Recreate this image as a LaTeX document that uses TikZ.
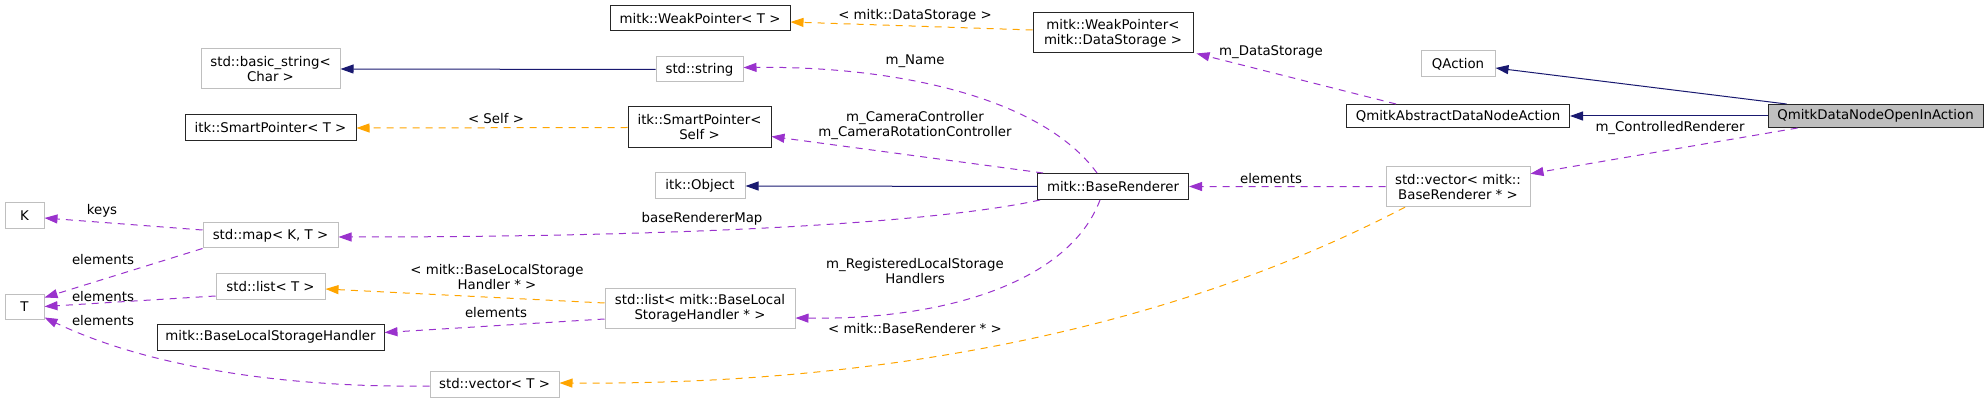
\documentclass[tikz,border=0pt]{standalone}
\usepackage{fontspec}
\setmainfont{DejaVu Sans}
\usetikzlibrary{arrows.meta, positioning}
\definecolor{inhblue}{HTML}{191970}
\definecolor{usepurple}{HTML}{9A32CD}
\definecolor{tplorange}{HTML}{FFA500}
\definecolor{boxgray}{HTML}{BFBFBF}

\begin{document}
\begin{tikzpicture}[x=1pt, y=-1pt,
			font=\fontsize{13.33}{15}\selectfont,
			cls/.style={rectangle, draw=black!85, line width=1pt, inner sep=0pt, align=center},
			ext/.style={cls, draw=boxgray},
			lbl/.style={inner sep=0pt, align=center},
			inherit/.style={-{Triangle[length=13pt, width=9pt]}, inhblue, line width=1pt},
			usage/.style={-{Triangle[length=13pt, width=9pt]}, usepurple, line width=1pt, dash pattern=on 7pt off 6pt},
			tmpl/.style={usage, tplorange}
		]
		\useasboundingbox (0,0) rectangle (1988,403);
		% classes
		\node[cls, minimum width=180pt, minimum height=25pt] (wpT) at (700,18.5) {mitk::WeakPointer< T >};
		\node[cls, minimum width=160pt, minimum height=40pt] (wpDS) at (1113,33) {mitk::WeakPointer<\\mitk::DataStorage >};
		\node[ext, minimum width=139pt, minimum height=40pt] (basicstr) at (270.5,69) {std::basic\_string<\\Char >};
		\node[ext, minimum width=87pt, minimum height=25pt] (stdstring) at (699.5,69.5) {std::string};
		\node[cls, minimum width=171pt, minimum height=26pt] (spT) at (270.5,128) {itk::SmartPointer< T >};
		\node[cls, minimum width=143pt, minimum height=41pt] (spSelf) at (699.5,127.5) {itk::SmartPointer<\\Self >};
		\node[ext, minimum width=90pt, minimum height=26pt] (itkobj) at (700,186) {itk::Object};
		\node[cls, minimum width=151pt, minimum height=26pt] (baserend) at (1113,186.5) {mitk::BaseRenderer};
		\node[ext, minimum width=74pt, minimum height=26pt] (qaction) at (1458,64) {QAction};
		\node[cls, minimum width=223pt, minimum height=23pt] (abstract) at (1458,116) {QmitkAbstractDataNodeAction};
		\node[cls, fill=boxgray, minimum width=215pt, minimum height=23pt] (openin) at (1875.5,116) {QmitkDataNodeOpenInAction};
		\node[ext, minimum width=144pt, minimum height=40pt] (vecBR) at (1458,186.7) {std::vector< mitk::\\BaseRenderer * >};
		\node[ext, minimum width=39pt, minimum height=26pt] (K) at (24.5,216) {K};
		\node[ext, minimum width=135pt, minimum height=25pt] (map) at (270.5,235.5) {std::map< K, T >};
		\node[ext, minimum width=39pt, minimum height=25pt] (T) at (24.5,306.5) {T};
		\node[ext, minimum width=109pt, minimum height=25pt] (listT) at (270.5,286.5) {std::list< T >};
		\node[cls, minimum width=227pt, minimum height=26pt] (blsh) at (270.5,337) {mitk::BaseLocalStorageHandler};
		\node[ext, minimum width=190pt, minimum height=40pt] (listBLSH) at (700,308) {std::list< mitk::BaseLocal\\StorageHandler * >};
		\node[ext, minimum width=129pt, minimum height=26pt] (vecT) at (494.5,384) {std::vector< T >};

		% edge labels
		\node[lbl] (lDS) at (915,16) {< mitk::DataStorage >};
		\node[lbl] (lDataStorage) at (1271,52) {m\_DataStorage};
		\node[lbl] (lCtrl) at (1670,128.5) {m\_ControlledRenderer};
		\node[lbl] (lElemBR) at (1271,178.5) {elements};
		\node[lbl] (lTplBR) at (915,328.5) {< mitk::BaseRenderer * >};
		\node[lbl] (lName) at (915,61) {m\_Name};
		\node[lbl] (lCam) at (915,126) {m\_CameraController\\m\_CameraRotationController};
		\node[lbl] (lMap) at (702,219) {baseRendererMap};
		\node[lbl] (lReg) at (915,271) {m\_RegisteredLocalStorage\\Handlers};
		\node[lbl] (lSelf) at (496,119) {< Self >};
		\node[lbl] (lTplBLSH) at (497,277.5) {< mitk::BaseLocalStorage\\Handler * >};
		\node[lbl] (lElemBLSH) at (496,313) {elements};
		\node[lbl] (lKeys) at (102,211) {keys};
		\node[lbl] (lElemMap) at (103,260) {elements};
		\node[lbl] (lElemList) at (103,297) {elements};
		\node[lbl] (lElemVec) at (103,321) {elements};

		% inheritance
		\draw[inherit] ([xshift=-89pt]openin.north) -- ([yshift=-4pt]qaction.east);
		\draw[inherit] (openin.west) -- (abstract.east);
		\draw[inherit] (baserend.west) -- (itkobj.east);
		\draw[inherit] (stdstring.west) -- (basicstr.east);

		% members
		\draw[usage] ([xshift=-78pt]openin.south) -- ([yshift=13pt]vecBR.east);
		\draw[usage] ([xshift=-62pt]abstract.north) -- ([xshift=3pt]wpDS.south east);
		\draw[usage] (vecBR.west) -- (baserend.east);
		\draw[usage] ([xshift=-16pt]baserend.north) .. controls (1040,95) and (890,66) .. ([yshift=2pt]stdstring.east);
		\draw[usage] ([xshift=-70pt]baserend.north) -- ([yshift=-9pt]spSelf.east);
		\draw[usage] ([xshift=3pt]baserend.south west) .. controls (940,222) and (700,237) .. ([yshift=-1.5pt]map.east);
		\draw[usage] ([xshift=-13pt]baserend.south) .. controls (1070,280) and (950,320) .. ([yshift=-10pt]listBLSH.east);
		\draw[usage] ([yshift=-11pt]listBLSH.west) -- ([yshift=4.5pt]blsh.east);
		\draw[usage] ([yshift=5.5pt]map.west) -- ([yshift=-2pt]K.east);
		\draw[usage] (map.south west) -- ([yshift=9pt]T.east);
		\draw[usage] ([yshift=-9.5pt]listT.west) -- (T.east);
		\draw[usage] ([yshift=-2pt]vecT.west) .. controls (290,388) and (150,368) .. ([yshift=-11pt]T.east);

		% template instances
		\draw[tmpl] ([yshift=3pt]wpDS.west) -- ([yshift=-3.5pt]wpT.east);
		\draw[tmpl] (spSelf.west) -- (spT.east);
		\draw[tmpl] ([yshift=5pt]listBLSH.west) -- ([yshift=-2.5pt]listT.east);
		\draw[tmpl] ([xshift=-53pt]vecBR.south) .. controls (1150,340) and (850,385) .. ([yshift=1pt]vecT.east);
\end{tikzpicture}
\end{document}
